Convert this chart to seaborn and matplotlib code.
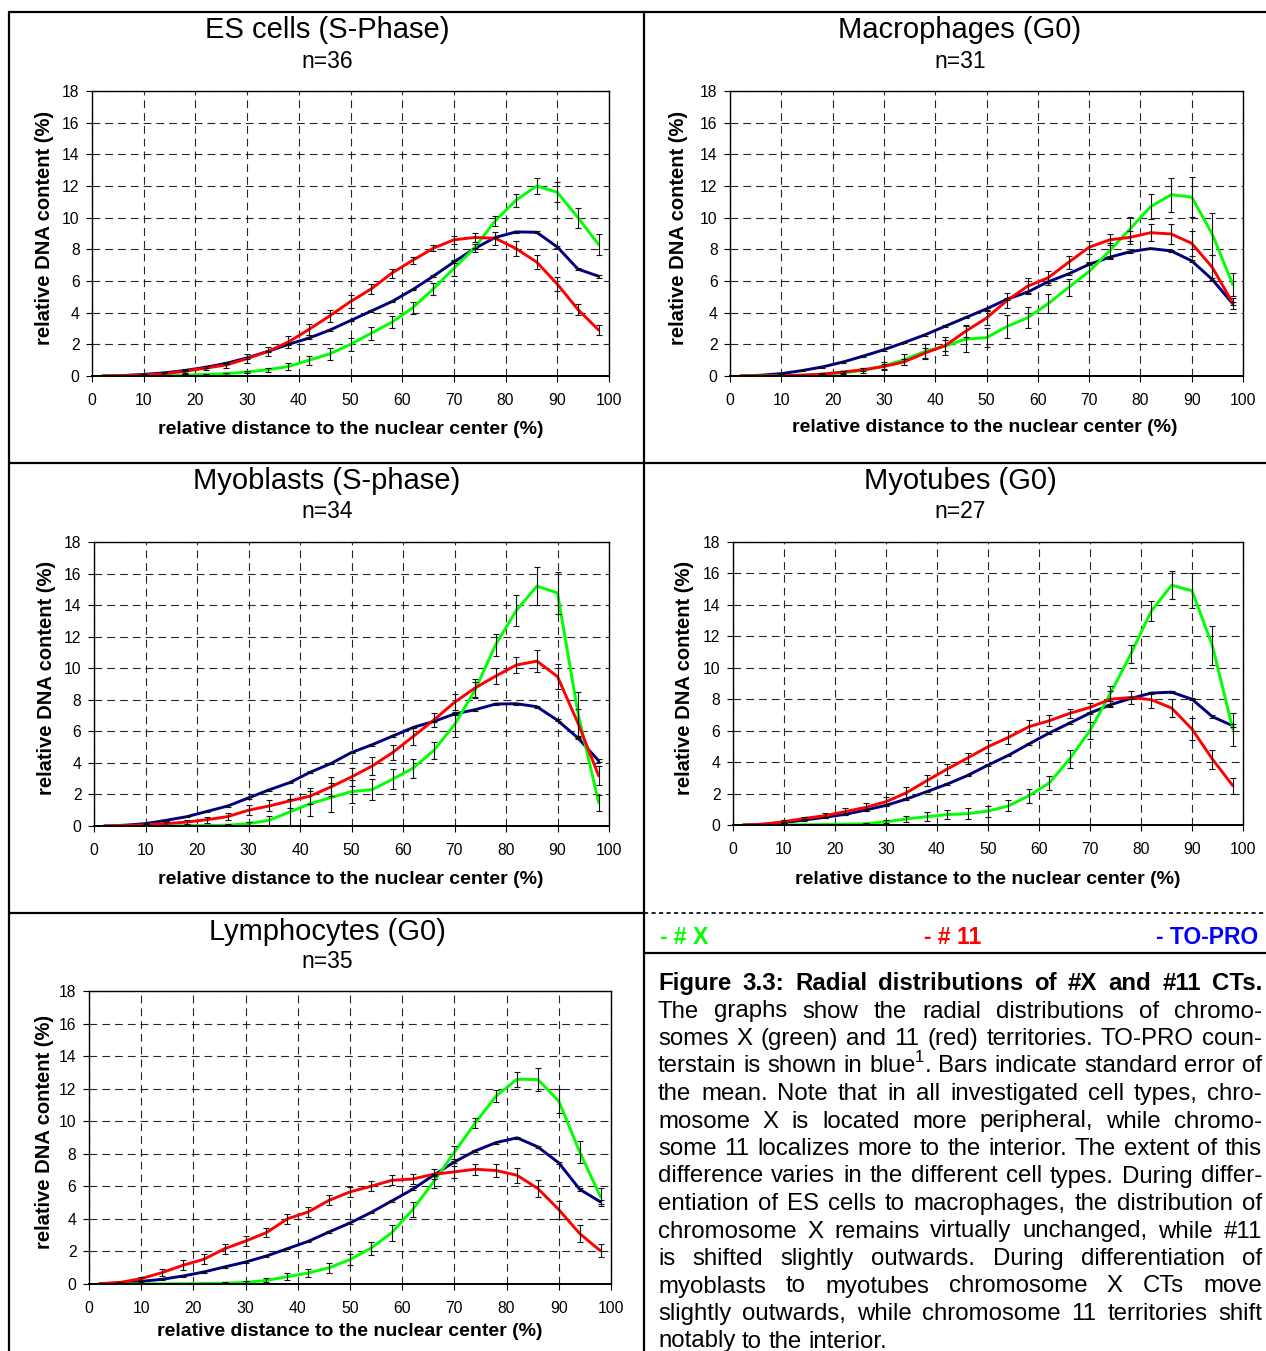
import matplotlib
matplotlib.use("Agg")
import numpy as np
import pandas as pd
import seaborn as sns
import matplotlib.pyplot as plt
from matplotlib.lines import Line2D
from matplotlib import font_manager

W, H = 1266, 1351

# ---------------- data ----------------
x_pos = [2, 6, 10, 14, 18, 22, 26, 30, 34, 38, 42, 46, 50, 54, 58, 62, 66, 70, 74, 78, 82, 86, 90, 94, 98]
x_ticks = [0, 10, 20, 30, 40, 50, 60, 70, 80, 90, 100]
y_ticks = [0, 2, 4, 6, 8, 10, 12, 14, 16, 18]

titles = ["ES cells (S-Phase)", "Macrophages (G0)", "Myoblasts (S-phase)", "Myotubes (G0)", "Lymphocytes (G0)"]
n_labels = ["n=36", "n=31", "n=34", "n=27", "n=35"]

es_green = [0.0, 0.0, 0.02, 0.03, 0.06, 0.1, 0.15, 0.25, 0.4, 0.6, 1.0, 1.4, 2.0, 2.7, 3.4, 4.3, 5.5, 6.8, 8.1, 9.8, 11.1, 12.0, 11.6, 10.0, 8.3]
es_red = [0.0, 0.02, 0.06, 0.15, 0.3, 0.5, 0.7, 1.1, 1.55, 2.15, 2.95, 3.8, 4.7, 5.5, 6.5, 7.3, 8.07, 8.6, 8.75, 8.7, 8.05, 7.2, 5.8, 4.2, 2.9]
es_blue = [0.0, 0.03, 0.1, 0.2, 0.35, 0.55, 0.8, 1.15, 1.55, 2.0, 2.4, 2.9, 3.5, 4.1, 4.7, 5.45, 6.3, 7.2, 8.05, 8.75, 9.1, 9.08, 8.15, 6.75, 6.3]
es_green_err = [0, 0, 0.02, 0.03, 0.04, 0.05, 0.06, 0.08, 0.12, 0.2, 0.28, 0.37, 0.4, 0.4, 0.4, 0.4, 0.37, 0.5, 0.25, 0.3, 0.4, 0.52, 0.63, 0.63, 0.68]
es_red_err = [0, 0.02, 0.05, 0.1, 0.14, 0.14, 0.2, 0.3, 0.3, 0.37, 0.36, 0.36, 0.42, 0.3, 0.28, 0.23, 0.2, 0.26, 0.3, 0.4, 0.46, 0.45, 0.45, 0.37, 0.3]

mac_green = [0.0, 0.01, 0.02, 0.05, 0.1, 0.2, 0.35, 0.63, 1.03, 1.55, 1.9, 2.33, 2.42, 3.13, 3.68, 4.56, 5.6, 6.6, 7.9, 9.3, 10.7, 11.45, 11.3, 8.97, 5.78]
mac_red = [0.0, 0.01, 0.03, 0.05, 0.12, 0.25, 0.4, 0.6, 0.9, 1.45, 1.93, 2.84, 3.66, 4.77, 5.67, 6.2, 7.18, 8.13, 8.6, 8.76, 9.05, 8.97, 8.38, 6.87, 4.6]
mac_blue = [0.0, 0.05, 0.15, 0.34, 0.57, 0.88, 1.26, 1.66, 2.12, 2.6, 3.15, 3.7, 4.24, 4.85, 5.3, 5.95, 6.45, 7.05, 7.5, 7.85, 8.05, 7.9, 7.27, 6.1, 4.56]
mac_green_err = [0, 0, 0.02, 0.03, 0.05, 0.1, 0.15, 0.25, 0.35, 0.5, 0.55, 0.8, 0.6, 0.7, 0.65, 0.6, 0.55, 0.6, 0.5, 0.75, 0.8, 1.07, 1.27, 1.3, 0.7]
mac_red_err = [0, 0, 0.02, 0.03, 0.05, 0.08, 0.1, 0.15, 0.2, 0.3, 0.35, 0.4, 0.45, 0.45, 0.5, 0.45, 0.4, 0.4, 0.35, 0.4, 0.55, 0.65, 0.8, 0.8, 0.35]

myb_green = [0.0, 0.0, 0.01, 0.01, 0.02, 0.03, 0.05, 0.15, 0.36, 0.89, 1.42, 1.8, 2.18, 2.31, 2.97, 3.67, 4.8, 6.42, 8.62, 11.5, 13.66, 15.2, 14.77, 7.1, 1.48]
myb_red = [0.0, 0.03, 0.08, 0.15, 0.25, 0.4, 0.6, 1.0, 1.27, 1.59, 1.9, 2.48, 3.11, 3.8, 4.66, 5.68, 6.72, 7.84, 8.75, 9.5, 10.2, 10.45, 9.47, 6.5, 3.18]
myb_blue = [0.0, 0.05, 0.15, 0.36, 0.59, 0.93, 1.27, 1.78, 2.29, 2.75, 3.41, 3.96, 4.66, 5.15, 5.7, 6.25, 6.63, 7.1, 7.37, 7.73, 7.75, 7.56, 6.7, 5.57, 4.13]
myb_green_err = [0, 0, 0.01, 0.01, 0.02, 0.03, 0.05, 0.1, 0.3, 0.8, 0.8, 0.9, 0.75, 0.65, 0.65, 0.6, 0.55, 0.8, 0.5, 0.7, 1.0, 1.2, 1.35, 1.4, 0.5]
myb_red_err = [0, 0.02, 0.05, 0.1, 0.15, 0.2, 0.25, 0.3, 0.35, 0.45, 0.5, 0.6, 0.55, 0.55, 0.5, 0.55, 0.45, 0.5, 0.55, 0.5, 0.5, 0.7, 0.8, 0.9, 0.6]

myt_green = [0.0, 0.0, 0.01, 0.02, 0.03, 0.05, 0.08, 0.21, 0.38, 0.53, 0.66, 0.72, 0.89, 1.21, 1.86, 2.67, 4.2, 6.0, 8.37, 10.87, 13.6, 15.25, 14.9, 11.4, 6.1]
myt_red = [0.0, 0.05, 0.21, 0.42, 0.59, 0.85, 1.12, 1.48, 2.05, 2.82, 3.56, 4.26, 4.98, 5.57, 6.25, 6.63, 7.1, 7.48, 8.0, 8.11, 7.97, 7.44, 6.1, 4.19, 2.5]
myt_blue = [0.0, 0.05, 0.15, 0.32, 0.49, 0.68, 0.95, 1.25, 1.65, 2.12, 2.6, 3.15, 3.81, 4.43, 5.15, 5.85, 6.48, 7.12, 7.65, 8.05, 8.39, 8.45, 8.0, 6.89, 6.31]
myt_green_err = [0, 0, 0.01, 0.01, 0.02, 0.03, 0.05, 0.1, 0.2, 0.3, 0.3, 0.35, 0.35, 0.35, 0.45, 0.45, 0.6, 0.55, 0.5, 0.55, 0.65, 0.9, 1.1, 1.25, 1.05]
myt_red_err = [0, 0.03, 0.08, 0.12, 0.15, 0.2, 0.25, 0.3, 0.35, 0.35, 0.35, 0.35, 0.4, 0.4, 0.4, 0.35, 0.3, 0.3, 0.5, 0.4, 0.5, 0.6, 0.7, 0.6, 0.5]

lym_green = [0.0, 0.0, 0.01, 0.01, 0.02, 0.03, 0.05, 0.1, 0.22, 0.45, 0.68, 1.0, 1.5, 2.2, 3.15, 4.57, 6.27, 8.1, 9.9, 11.55, 12.58, 12.56, 11.23, 8.11, 5.35]
lym_red = [0.02, 0.1, 0.33, 0.7, 1.15, 1.52, 2.17, 2.64, 3.16, 4.0, 4.43, 5.14, 5.66, 6.0, 6.37, 6.45, 6.74, 6.89, 7.05, 6.97, 6.68, 5.86, 4.57, 3.1, 2.03]
lym_blue = [0.0, 0.08, 0.16, 0.29, 0.49, 0.74, 1.05, 1.35, 1.72, 2.17, 2.62, 3.2, 3.75, 4.39, 5.1, 5.82, 6.68, 7.5, 8.18, 8.69, 8.98, 8.42, 7.44, 5.82, 5.04]
lym_green_err = [0, 0, 0.01, 0.01, 0.02, 0.03, 0.05, 0.08, 0.12, 0.2, 0.25, 0.3, 0.35, 0.4, 0.5, 0.45, 0.4, 0.4, 0.3, 0.35, 0.45, 0.7, 0.75, 0.7, 0.55]
lym_red_err = [0.02, 0.05, 0.1, 0.2, 0.3, 0.3, 0.3, 0.3, 0.3, 0.3, 0.3, 0.3, 0.3, 0.3, 0.3, 0.3, 0.3, 0.35, 0.35, 0.4, 0.45, 0.5, 0.55, 0.55, 0.4]

blue_err = [0, 0.02, 0.03, 0.04, 0.04, 0.05, 0.05, 0.05, 0.05, 0.05, 0.05, 0.05, 0.05, 0.05, 0.05, 0.05, 0.05, 0.06, 0.06, 0.06, 0.06, 0.07, 0.07, 0.08, 0.1]

series_names = ["TO-PRO", "#X", "#11"]
line_colors = {"#X": "#00FF00", "#11": "#FF0000", "TO-PRO": "#000080"}

xlabel_text = "relative distance to the nuclear center (%)"
ylabel_text = "relative DNA content (%)"

legend_items = ["- # X", "- # 11", "- TO-PRO"]
legend_colors = ["#00FF00", "#FF0000", "#0000FF"]

caption_lines = [
    "Figure 3.3: Radial distributions of #X and #11 CTs.",
    "The graphs show the radial distributions of chromo-",
    "somes X (green) and 11 (red) territories. TO-PRO coun-",
    "terstain is shown in blue$^{\\mathregular{1}}$. Bars indicate standard error of",
    "the mean. Note that in all investigated cell types, chro-",
    "mosome X is located more peripheral, while chromo-",
    "some 11 localizes more to the interior. The extent of this",
    "difference varies in the different cell types. During differ-",
    "entiation of ES cells to macrophages, the distribution of",
    "chromosome X remains virtually unchanged, while #11",
    "is shifted slightly outwards. During differentiation of",
    "myoblasts to myotubes chromosome X CTs move",
    "slightly outwards, while chromosome 11 territories shift",
    "notably to the interior.",
]

# ---------------- style ----------------
sns.set_theme(style="white")
plt.rcParams['font.family'] = ['Liberation Sans', 'DejaVu Sans']
plt.rcParams['mathtext.fontset'] = 'custom'
plt.rcParams['mathtext.rm'] = 'Liberation Sans'

_avail = {f.name for f in font_manager.fontManager.ttflist}
if "Liberation Sans Narrow" in _avail:
    NARROW = ["Liberation Sans Narrow", "Liberation Sans", "DejaVu Sans"]
    nscale = 1 / 0.82
else:
    NARROW = ["Liberation Sans", "DejaVu Sans"]
    nscale = 1.0

fig = plt.figure(figsize=(W / 100, H / 100), dpi=100)
fig.patch.set_facecolor("white")


def fx(x):
    return x / W


def fy(y):
    return 1 - y / H


panels = [
    dict(data=(es_green, es_red, es_blue, es_green_err, es_red_err), box=(92, 91, 609, 376),
         tcx=327, ty=30, ny=61, ylx=45, xlcx=351, xly=430),
    dict(data=(mac_green, mac_red, mac_blue, mac_green_err, mac_red_err), box=(730, 91, 1243, 376),
         tcx=960, ty=30, ny=61, ylx=679, xlcx=985, xly=428),
    dict(data=(myb_green, myb_red, myb_blue, myb_green_err, myb_red_err), box=(94, 542, 609, 826),
         tcx=327, ty=481, ny=512, ylx=47, xlcx=351, xly=880),
    dict(data=(myt_green, myt_red, myt_blue, myt_green_err, myt_red_err), box=(733, 542, 1243, 825),
         tcx=960, ty=481, ny=512, ylx=684, xlcx=988, xly=879),
    dict(data=(lym_green, lym_red, lym_blue, lym_green_err, lym_red_err), box=(89, 991, 611, 1284),
         tcx=327, ty=932, ny=962, ylx=45, xlcx=350, xly=1332),
]

tick_size = 11.3 * nscale

for i, p in enumerate(panels):
    g, r, b, ge, re_ = p["data"]
    x0, y0, x1, y1 = p["box"]
    ax = fig.add_axes([fx(x0), fy(y1), (x1 - x0) / W, (y1 - y0) / H])
    df = pd.DataFrame({
        "x": x_pos * 3,
        "v": b + g + r,
        "s": ["TO-PRO"] * len(x_pos) + ["#X"] * len(x_pos) + ["#11"] * len(x_pos),
    })
    sns.lineplot(data=df, x="x", y="v", hue="s", hue_order=series_names, palette=line_colors,
                 linewidth=2.1, legend=False, ax=ax, estimator=None, sort=False, zorder=2)
    for yy, ee in ((b, blue_err), (g, ge), (r, re_)):
        ax.errorbar(x_pos, yy, yerr=ee, fmt="none", ecolor="#111111", elinewidth=0.8,
                    capsize=2.2, capthick=0.8, zorder=3)
    ax.set_xlim(0, 100)
    ax.set_ylim(0, 18)
    ax.set_xticks(x_ticks)
    ax.set_yticks(y_ticks)
    ax.set_xlabel("")
    ax.set_ylabel("")
    ax.grid(True, color="black", linestyle=(0, (7, 4.5)), linewidth=0.8, alpha=0.85)
    for s in ax.spines.values():
        s.set_color("black")
        s.set_linewidth(1.0)
    ax.spines["bottom"].set_linewidth(1.4)
    ax.tick_params(direction="out", length=4, width=0.8, colors="black", labelsize=tick_size,
                   bottom=True, left=True)
    ax.tick_params(axis="x", pad=8)
    ax.tick_params(axis="y", pad=5)
    for lab in ax.get_xticklabels() + ax.get_yticklabels():
        lab.set_fontfamily(NARROW)
    fig.text(fx(p["tcx"]), fy(p["ty"]), titles[i], ha="center", va="center", fontsize=21, color="black")
    fig.text(fx(p["tcx"]), fy(p["ny"]), n_labels[i], ha="center", va="center", fontsize=16.5, color="black")
    fig.text(fx(p["ylx"]), fy((y0 + y1) / 2 - 6), ylabel_text, ha="center", va="center", rotation=90,
             fontsize=14.5, fontweight="bold", color="black")
    fig.text(fx(p["xlcx"]), fy(p["xly"]), xlabel_text, ha="center", va="center",
             fontsize=14, fontweight="bold", color="black")


# ---------------- frame lines ----------------
def seg(xa, ya, xb, yb, ls="-", lw=1.6):
    fig.add_artist(Line2D([fx(xa), fx(xb)], [fy(ya), fy(yb)], color="black", linewidth=lw,
                          linestyle=ls, transform=fig.transFigure))


seg(9, 12, 1266, 12)
seg(9, 12, 9, 1351)
seg(644, 12, 644, 1351)
seg(9, 463, 1266, 463)
seg(9, 913, 644, 913)
seg(644, 913, 1266, 913, ls=(0, (2.5, 2.0)), lw=1.2)
seg(644, 953, 1266, 953)

# ---------------- legend row ----------------
fig.text(fx(660), fy(937), legend_items[0], ha="left", va="center", fontsize=16.5,
         fontweight="bold", color=legend_colors[0])
fig.text(fx(953), fy(937), legend_items[1], ha="center", va="center", fontsize=16.5,
         fontweight="bold", color=legend_colors[1])
fig.text(fx(1258), fy(937), legend_items[2], ha="right", va="center", fontsize=16.5,
         fontweight="bold", color=legend_colors[2])

# ---------------- justified caption ----------------
renderer = fig.canvas.get_renderer()


def measure(s, size, weight):
    t = fig.text(0, 0, s, fontsize=size, fontweight=weight, family=NARROW)
    w = t.get_window_extent(renderer).width
    t.remove()
    return w


def natural(line, size, weight):
    words = line.split(" ")
    sp = measure("a a", size, weight) - measure("aa", size, weight)
    return sum(measure(w, size, weight) for w in words) + sp * (len(words) - 1)


cap_left, cap_right = 658, 1262
avail_w = cap_right - cap_left
base_size = 15.0 * nscale
nat_reg = [natural(l, base_size, "normal") for l in caption_lines[1:-1]]
cap_size = min(18.5, base_size * avail_w / max(nat_reg))
nat_bold = natural(caption_lines[0], cap_size, "bold")
bold_size = cap_size * min(1.0, avail_w / nat_bold)

baseline0 = 990
line_step = 27.5
for k, line in enumerate(caption_lines):
    wt = "bold" if k == 0 else "normal"
    sz = bold_size if k == 0 else cap_size
    words = line.split(" ")
    widths = [measure(w, sz, wt) for w in words]
    sp = measure("a a", sz, wt) - measure("aa", sz, wt)
    if k == len(caption_lines) - 1 or len(words) == 1:
        gap = sp
    else:
        gap = (avail_w - sum(widths)) / (len(words) - 1)
    xcur = cap_left
    yb = baseline0 + k * line_step
    for w, wd in zip(words, widths):
        fig.text(fx(xcur), fy(yb), w, ha="left", va="baseline", fontsize=sz,
                 fontweight=wt, color="black", family=NARROW)
        xcur += wd + gap

fig.savefig("out.png", dpi=100, facecolor="white")
